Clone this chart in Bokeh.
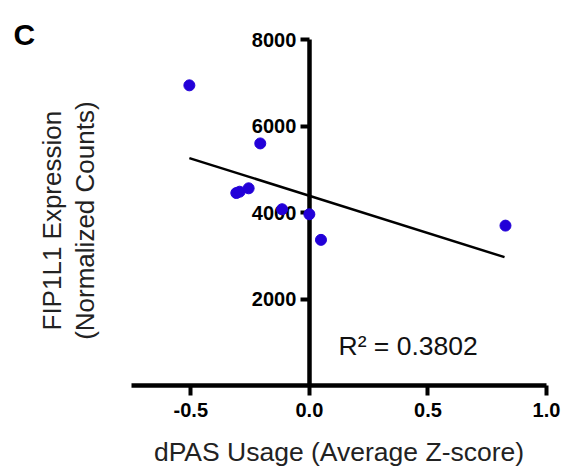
import math
from bokeh.plotting import figure
from bokeh.layouts import row
from bokeh.models import LinearAxis, FixedTicker, NumeralTickFormatter, Range1d, Label
from bokeh.embed import file_html
from bokeh.resources import INLINE

# ---- data ----
dpas_usage = [-0.506, -0.207, -0.308, -0.294, -0.256, -0.115, 0.000, 0.049, 0.827]
fip1l1_expr = [6950, 5605, 4457, 4487, 4566, 4081, 3965, 3372, 3702]
fit_x = [-0.506, 0.823]
fit_y = [5266, 2972]
x_ticks = [-0.5, 0.0, 0.5, 1.0]
y_ticks = [2000, 4000, 6000, 8000]
x_limits = (-0.75, 1.0)
y_axis_span = (0, 8000)
y_view_top = 8405
r2_text = "R\u00b2 = 0.3802"
r2_pos = (0.123, 923)
panel_letter = "C"
x_title = "dPAS Usage (Average Z-score)"
y_title = "FIP1L1 Expression\n(Normalized Counts)"

FONT = "Liberation Sans"
POINT_COLOR = "#2200D8"

# ---- left strip: panel letter and y title ----
LEFT_W, H = 131, 469
side = figure(width=LEFT_W, height=H, x_range=Range1d(0, LEFT_W), y_range=Range1d(0, H),
              title=None, output_backend="svg", toolbar_location=None,
              x_axis_location=None, y_axis_location=None,
              min_border_left=0, min_border_right=0, min_border_top=0, min_border_bottom=0)
side.outline_line_color = None
side.grid.visible = False
side.add_layout(Label(x=13, y=454, text=panel_letter, text_font=FONT,
                      text_font_size="30px", text_font_style="bold",
                      text_color="black", text_baseline="alphabetic"))
side.add_layout(Label(x=68, y=213, text=y_title, text_font=FONT,
                      text_font_size="26px", text_color="#222222",
                      text_align="center", text_baseline="middle",
                      text_line_height=1.12, angle=math.pi / 2))

# ---- main scatter plot ----
p = figure(width=564 - LEFT_W, height=H,
           x_range=Range1d(*x_limits), y_range=Range1d(y_axis_span[0], y_view_top),
           output_backend="svg", toolbar_location=None, y_axis_location=None,
           min_border_left=0, min_border_right=18,
           min_border_top=22, min_border_bottom=84)
p.outline_line_color = None
p.grid.visible = False
p.background_fill_color = "white"

# x axis (bottom, at y = 0)
xa = p.xaxis[0]
xa.ticker = FixedTicker(ticks=x_ticks)
xa.formatter = NumeralTickFormatter(format="0.0")
xa.axis_line_width = 4.5
xa.axis_line_color = "black"
xa.major_tick_line_width = 4
xa.major_tick_out = 10
xa.major_tick_in = 0
xa.minor_tick_line_color = None
xa.major_label_text_font = FONT
xa.major_label_text_font_style = "bold"
xa.major_label_text_font_size = "20px"
xa.major_label_text_color = "black"
xa.major_label_standoff = 7
xa.axis_label = x_title
xa.axis_label_text_font = FONT
xa.axis_label_text_font_size = "26.5px"
xa.axis_label_text_font_style = "normal"
xa.axis_label_text_color = "#222222"
xa.axis_label_standoff = 17

# y axis crossing at x = 0
yfix = LinearAxis(fixed_location=0, ticker=FixedTicker(ticks=y_ticks), bounds=y_axis_span)
yfix.axis_line_width = 4.5
yfix.axis_line_color = "black"
yfix.major_tick_line_width = 4
yfix.major_tick_out = 9
yfix.major_tick_in = 0
yfix.minor_tick_line_color = None
yfix.major_label_text_font = FONT
yfix.major_label_text_font_style = "bold"
yfix.major_label_text_font_size = "20px"
yfix.major_label_text_color = "black"
yfix.major_label_standoff = 4
p.add_layout(yfix, "left")

# regression line and points
p.line(fit_x, fit_y, line_width=2.5, line_color="black")
p.scatter(dpas_usage, fip1l1_expr, size=11, fill_color=POINT_COLOR,
          line_color=POINT_COLOR, level="overlay")

p.add_layout(Label(x=r2_pos[0], y=r2_pos[1], text=r2_text, text_font=FONT,
                   text_font_size="26.5px", text_color="#111111",
                   text_baseline="alphabetic"))

layout = row(side, p, spacing=0)
open("out.html", "w").write(file_html(layout, INLINE))
